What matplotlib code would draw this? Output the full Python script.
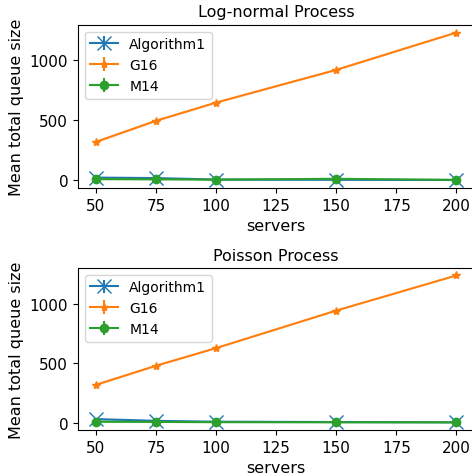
import matplotlib
matplotlib.use("Agg")
import matplotlib.pyplot as plt
import numpy as np

# servers on the x axis
servers = [50, 75, 100, 150, 200]

# Log-normal arrivals: mean total queue size
logn_alg1 = [22, 18, 6, 4, 2]
logn_g16 = [319, 494, 645, 917, 1227]
logn_m14 = [10, 8, 5, 12, 3]
logn_err = [8, 6, 4, 6, 3]

# Poisson arrivals
pois_alg1 = [30, 15, 8, 5, 3]
pois_g16 = [318, 478, 626, 941, 1236]
pois_m14 = [8, 6, 4, 3, 2]
pois_err = [8, 5, 3, 3, 2]

def panel(ax, title, alg1, g16, m14, err):
    x = np.array(servers)
    ax.errorbar(x, alg1, yerr=err, marker='x', markersize=10, color='C0', label='Algorithm1')
    ax.fill_between(x, np.array(alg1) - np.array(err), np.array(alg1) + np.array(err),
                    color='C0', alpha=0.3, lw=0)
    ax.errorbar(x, g16, yerr=err, marker='*', markersize=6, color='C1', label='G16')
    ax.fill_between(x, np.array(g16) - np.array(err), np.array(g16) + np.array(err),
                    color='C1', alpha=0.3, lw=0)
    ax.errorbar(x, m14, yerr=err, marker='o', markersize=6, color='C2', label='M14')
    ax.fill_between(x, np.array(m14) - np.array(err), np.array(m14) + np.array(err),
                    color='C2', alpha=0.3, lw=0)
    ax.set_title(title, fontsize=11.5)
    ax.set_xlabel('servers', fontsize=11.5)
    ax.set_ylabel('Mean total queue size', fontsize=11.5)
    ax.set_yticks([0, 500, 1000])
    ax.tick_params(labelsize=11)
    ax.legend(loc='upper left', fontsize=10)

fig = plt.figure(figsize=(4.72, 4.77), dpi=100)
# right edge of both panels runs just past the figure, as in the source
ax1 = fig.add_axes([0.165, 0.604, 0.840, 0.342])
ax2 = fig.add_axes([0.165, 0.0964, 0.840, 0.340])

panel(ax1, 'Log-normal Process', logn_alg1, logn_g16, logn_m14, logn_err)
panel(ax2, 'Poisson Process', pois_alg1, pois_g16, pois_m14, pois_err)

fig.savefig('out.png', dpi=100)
